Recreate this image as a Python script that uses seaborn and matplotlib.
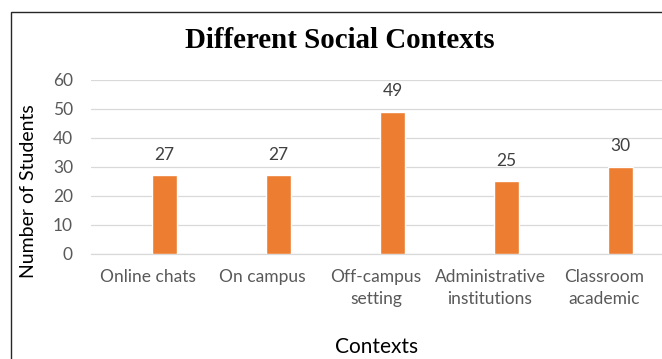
import matplotlib
matplotlib.use("Agg")
import matplotlib.pyplot as plt
import seaborn as sns
import pandas as pd
from matplotlib.patches import Rectangle

categories = ["Online chats", "On campus", "Off-campus\nsetting",
              "Administrative\ninstitutions", "Classroom\nacademic"]
students = [27, 27, 49, 25, 30]
y_ticks = [0, 10, 20, 30, 40, 50, 60]

df = pd.DataFrame({"Contexts": categories, "Students": students})

sns.set_theme(style="white")
plt.rcParams["font.family"] = ["Lato", "DejaVu Sans"]

W, H = 662, 359
fig = plt.figure(figsize=(W / 100, H / 100), dpi=100)
ax = fig.add_axes([91 / W, 1 - 253.5 / H, (W - 91) / W, 173.5 / H])

sns.barplot(data=df, x="Contexts", y="Students", color="#ED7D31",
            width=0.224, saturation=1, ax=ax, zorder=3)

ax.set_ylim(0, 60)
ax.set_yticks(y_ticks)
ax.set_xlim(-0.645, 4.364)
# category labels sit slightly left of the bars, as in the reference
ax.set_xticks([i - 0.145 for i in range(len(categories))])
ax.set_xticklabels(categories)
ax.yaxis.grid(True, color="#D9D9D9", linewidth=0.9, zorder=0)
ax.xaxis.grid(False)
for s in ["top", "right", "left"]:
    ax.spines[s].set_visible(False)
ax.spines["bottom"].set_color("#D9D9D9")
ax.spines["bottom"].set_linewidth(0.9)
ax.tick_params(axis="both", length=0, colors="#595959", labelsize=12.5)
ax.tick_params(axis="y", pad=13)
ax.tick_params(axis="x", pad=11)
for lab in ax.get_xticklabels():
    lab.set_linespacing(1.45)

for i, v in enumerate(students):
    ax.annotate(str(v), xy=(i, v), xytext=(0, 9), textcoords="offset points",
                ha="center", va="bottom", fontsize=12.5, color="#404040")

ax.set_xlabel("Contexts", fontsize=15, color="black")
ax.xaxis.set_label_coords(0.5, (253.5 - 347) / 173.5)
ax.xaxis.label.set_va("center")
ax.set_ylabel("Number of Students", fontsize=14, color="black")
ax.yaxis.set_label_coords((28.7 - 91) / 571, (253.5 - 191) / 173.5)
ax.yaxis.label.set_va("center")

fig.text(339.5 / W, 1 - 48 / H, "Different Social Contexts",
         family="Liberation Serif", weight="bold", fontsize=20.8,
         ha="center", va="baseline", color="black")

fig.patches.append(Rectangle((10.5 / W, -0.1), 1.2, 1 - 12 / H + 0.1,
                             transform=fig.transFigure, fill=False,
                             edgecolor="#262626", linewidth=1.0))

fig.savefig("out.png", dpi=100, facecolor="white")
